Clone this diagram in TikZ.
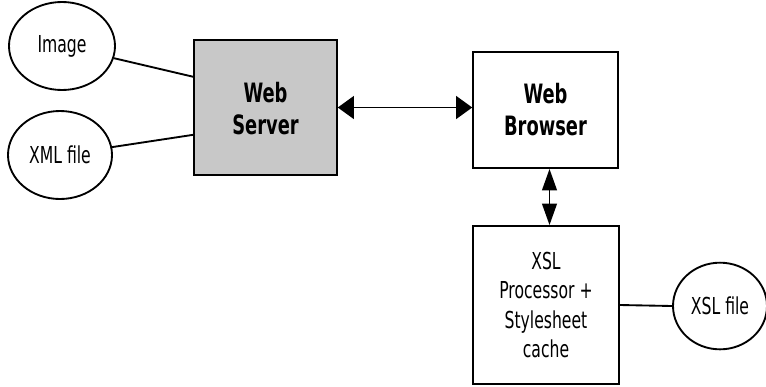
\documentclass[tikz,border=0pt]{standalone}
\usepackage{fontspec}
\setmainfont{DejaVu Sans}[FakeStretch=0.67]
\usetikzlibrary{shapes.geometric,arrows.meta,calc}
\begin{document}
\begin{tikzpicture}[x=0.75pt,y=-0.75pt,
  line width=1.4pt,
  every node/.style={font=\fontsize{17.5}{22}\selectfont, align=center, inner sep=0pt},
  blob/.style={draw, ellipse},
  box/.style={draw, rectangle},
  title/.style={font=\fontsize{20}{24}\selectfont\bfseries},
  hlink/.style={{Triangle[length=12pt,width=17pt]}-{Triangle[length=12pt,width=17pt]}},
  vlink/.style={{Triangle[length=16pt,width=11pt]}-{Triangle[length=16pt,width=11pt]}}]
\useasboundingbox (0,0) rectangle (766,386);

% data sources feeding the server
\node[blob, minimum width=79.5pt, minimum height=66pt] (img) at (62,46) {Image};
\node[blob, minimum width=78pt, minimum height=66pt] (xml) at (60,155) {XML file};

% server, browser and the XSL processor
\node[box, fill={rgb,255:red,200;green,200;blue,200}, minimum width=107pt, minimum height=101pt] (ws) at (265.5,107.5) {};
\node[title] at ([yshift=-1pt]ws) {Web\\Server};
\node[box, minimum width=108.5pt, minimum height=87pt] (wb) at (545.5,110) {};
\node[title] at (wb) {Web\\Browser};
\node[box, minimum width=109.5pt, minimum height=118.5pt] (xsl) at (546,305) {XSL\\Processor +\\Stylesheet\\cache};
\node[blob, minimum width=70.5pt, minimum height=65pt] (xslf) at (720,306) {XSL file};

% connectors
\draw (img) -- ($(ws.north west)!0.275!(ws.south west)$);
\draw (xml) -- ($(ws.north west)!0.70!(ws.south west)$);
\draw[hlink] (ws.east) -- (wb.west |- ws.east);
\draw[vlink] ([xshift=3pt]wb.south) -- ([xshift=3pt]wb.south |- xsl.north);
\draw (xsl.east) -- (xslf.west);
\end{tikzpicture}
\end{document}
